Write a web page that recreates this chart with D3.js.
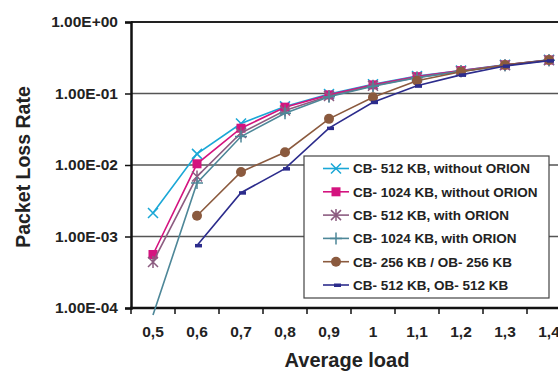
<!DOCTYPE html>
<html>
<head>
<meta charset="utf-8">
<script src="https://cdn.jsdelivr.net/npm/d3@7"></script>
<style>
  body { margin: 0; background: #fff; }
  svg text { font-family: "Liberation Sans", Arial, sans-serif; font-weight: bold; fill: #222; }
</style>
</head>
<body>
<svg id="chart" width="558" height="374"></svg>
<script>
// categories (average load)
const loads = ["0,5", "0,6", "0,7", "0,8", "0,9", "1", "1,1", "1,2", "1,3", "1,4"];
const yTicks = [1e-4, 1e-3, 1e-2, 1e-1, 1];

// packet loss rate per series (null = no point)
const cb512NoOrion  = [0.00213, 0.0143, 0.038, 0.066, 0.098, 0.135, 0.175, 0.21, 0.252, 0.296];
const cb1024NoOrion = [0.00056, 0.0104, 0.0327, 0.0644, 0.0956, 0.132, 0.172, 0.209, 0.251, 0.294];
const cb512Orion    = [0.00044, 0.0069, 0.028, 0.058, 0.092, 0.128, 0.168, 0.205, 0.249, 0.292];
const cb1024Orion   = [0.00008, 0.0056, 0.025, 0.053, 0.090, 0.126, 0.166, 0.204, 0.248, 0.291];
const cb256ob256    = [null, 0.00195, 0.0080, 0.0151, 0.0442, 0.0887, 0.151, 0.202, 0.251, 0.294];
const cb512ob512    = [null, 0.00075, 0.0041, 0.0089, 0.0328, 0.0756, 0.128, 0.182, 0.243, 0.288];

const series = [
	{ name: "CB- 512 KB, without ORION", values: cb512NoOrion, color: "#1aa7d6", marker: "x" },
	{ name: "CB- 1024 KB, without ORION", values: cb1024NoOrion, color: "#d4137f", marker: "square" },
	{ name: "CB- 512 KB, with ORION", values: cb512Orion, color: "#8c5c80", marker: "star" },
	{ name: "CB- 1024 KB, with ORION", values: cb1024Orion, color: "#4d8798", marker: "plus" },
	{ name: "CB- 256 KB / OB- 256 KB", values: cb256ob256, color: "#8b5a3e", marker: "circle" },
	{ name: "CB- 512 KB, OB- 512 KB", values: cb512ob512, color: "#2c2c8c", marker: "dash" }
];

const svg = d3.select("#chart");
const plot = { left: 131, top: 22, right: 571, bottom: 308 };

const x = d3.scaleBand()
	.domain(loads)
	.range([plot.left, plot.right])
	.padding(0);

const y = d3.scaleLog()
	.domain([1e-4, 1])
	.range([plot.bottom, plot.top]);

const cx = (cat) => x(cat) + x.bandwidth() / 2;

const formatExp = (v) => {
	const e = Math.round(Math.log10(v));
	return "1.00E" + (e >= 0 ? "+" : "-") + String(Math.abs(e)).padStart(2, "0");
};

// gridlines
svg.append("g")
	.selectAll("line")
	.data(yTicks.filter(v => v > 1e-4 && v < 1))
	.enter()
	.append("line")
		.attr("x1", plot.left)
		.attr("x2", 558)
		.attr("y1", d => y(d))
		.attr("y2", d => y(d))
		.attr("stroke", "#555")
		.attr("stroke-width", 1.5);

// top frame line at 1.00E+00
svg.append("line")
	.attr("x1", plot.left).attr("x2", 558)
	.attr("y1", y(1)).attr("y2", y(1))
	.attr("stroke", "#222").attr("stroke-width", 2);

// y axis
const yAxis = svg.append("g")
	.attr("transform", `translate(${plot.left},0)`)
	.call(d3.axisLeft(y).tickValues(yTicks).tickFormat(formatExp).tickSize(6).tickPadding(7));
yAxis.select(".domain").attr("stroke", "#111").attr("stroke-width", 2.5);
yAxis.selectAll(".tick line").attr("stroke", "#111").attr("stroke-width", 1.5);
yAxis.selectAll("text").attr("font-size", 15.5).attr("fill", "#222")
	.attr("font-family", "Liberation Sans, Arial, sans-serif").attr("font-weight", "bold");

// x axis: labels centred in bands, ticks at band boundaries
const xAxis = svg.append("g")
	.attr("transform", `translate(0,${plot.bottom})`)
	.call(d3.axisBottom(x).tickSize(0).tickPadding(18));
xAxis.select(".domain").remove();
xAxis.selectAll("text").attr("font-size", 15.5).attr("fill", "#222")
	.attr("font-family", "Liberation Sans, Arial, sans-serif").attr("font-weight", "bold");

svg.append("line")
	.attr("x1", plot.left - 1).attr("x2", 558)
	.attr("y1", plot.bottom).attr("y2", plot.bottom)
	.attr("stroke", "#111").attr("stroke-width", 2.5);

svg.append("g")
	.selectAll("line")
	.data(loads)
	.enter()
	.append("line")
		.attr("x1", d => x(d)).attr("x2", d => x(d))
		.attr("y1", plot.bottom).attr("y2", plot.bottom + 6)
		.attr("stroke", "#111").attr("stroke-width", 1.5);

// axis titles
svg.append("text")
	.attr("transform", `translate(30,${(plot.top + plot.bottom) / 2 + 2}) rotate(-90)`)
	.attr("text-anchor", "middle")
	.attr("font-size", 19.5)
	.text("Packet Loss Rate");

svg.append("text")
	.attr("x", 347)
	.attr("y", 367)
	.attr("text-anchor", "middle")
	.attr("font-size", 20)
	.text("Average load");

// markers
function drawMarker(g, type, color) {
	if (type === "x") {
		g.append("path").attr("d", "M-5,-5L5,5M-5,5L5,-5").attr("stroke", color).attr("stroke-width", 1.5).attr("fill", "none");
	} else if (type === "square") {
		g.append("rect").attr("x", -4.5).attr("y", -4.5).attr("width", 9).attr("height", 9).attr("fill", color);
	} else if (type === "star") {
		g.append("path").attr("d", "M-5,-5L5,5M-5,5L5,-5M0,-6L0,6").attr("stroke", color).attr("stroke-width", 1.5).attr("fill", "none");
	} else if (type === "plus") {
		g.append("path").attr("d", "M-6,0L6,0M0,-6L0,6").attr("stroke", color).attr("stroke-width", 1.5).attr("fill", "none");
	} else if (type === "circle") {
		g.append("circle").attr("r", 5).attr("fill", color);
	} else if (type === "dash") {
		g.append("rect").attr("x", -2).attr("y", -1.5).attr("width", 7).attr("height", 3.5).attr("fill", color);
	}
}

const line = d3.line()
	.defined(d => d.v !== null)
	.x(d => cx(d.cat))
	.y(d => y(d.v));

series.forEach(s => {
	const pts = s.values.map((v, i) => ({ cat: loads[i], v: v }));
	const g = svg.append("g").attr("class", "series");
	g.append("path")
		.datum(pts)
		.attr("d", line)
		.attr("fill", "none")
		.attr("stroke", s.color)
		.attr("stroke-width", 1.6);
	g.selectAll("g.mark")
		.data(pts.filter(d => d.v !== null && d.v >= 1e-4))
		.enter()
		.append("g")
			.attr("class", "mark")
			.attr("transform", d => `translate(${cx(d.cat)},${y(d.v)})`)
			.each(function () { drawMarker(d3.select(this), s.marker, s.color); });
});

// legend
const legend = svg.append("g").attr("transform", "translate(304,156)");
legend.append("rect")
	.attr("width", 245).attr("height", 142)
	.attr("fill", "#fff").attr("stroke", "#444").attr("stroke-width", 1.2);

const items = legend.selectAll("g.item")
	.data(series)
	.enter()
	.append("g")
		.attr("class", "item")
		.attr("transform", (d, i) => `translate(0,${12.5 + i * 23.3})`);

items.append("line")
	.attr("x1", 19).attr("x2", 45)
	.attr("stroke", d => d.color).attr("stroke-width", 1.6);
items.append("g")
	.attr("transform", "translate(32,0)")
	.each(function (d) { drawMarker(d3.select(this), d.marker, d.color); });
items.append("text")
	.attr("x", 49)
	.attr("dy", "0.36em")
	.attr("font-size", 13.5)
	.text(d => d.name);
</script>
</body>
</html>
